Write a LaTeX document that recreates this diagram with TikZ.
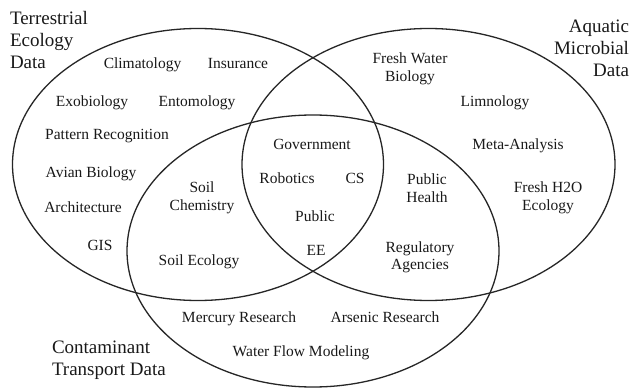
\documentclass[tikz,border=0pt]{standalone}
\usepackage{fontspec}
\setmainfont{Liberation Serif}
\begin{document}
\begin{tikzpicture}[x=1pt,y=-1pt,
  set/.style={line width=1.3pt,draw=black!85},
  lbl/.style={inner sep=0pt,outer sep=0pt,anchor=base,align=center,font=\fontsize{15.5}{17.5}\selectfont,text=black!90},
  big/.style={inner sep=0pt,outer sep=0pt,font=\fontsize{19}{22}\selectfont,text=black!90}]
\useasboundingbox[fill=white] (0,0) rectangle (634,390);
% sets
\draw[set] (198,164.5) ellipse [x radius=185.5pt, y radius=136pt];
\draw[set] (428.5,164.5) ellipse [x radius=186.5pt, y radius=136pt];
\draw[set] (313,251) ellipse [x radius=186pt, y radius=136pt];
% set titles (base anchor = baseline of last line)
\node[big,anchor=base west,align=left] (terr) at (10,68.3) {Terrestrial\\Ecology\\Data};
\node[big,anchor=base east,align=right] (aqua) at (629,77) {Aquatic\\Microbial\\Data};
\node[big,anchor=base west,align=left] (cont) at (52,375) {Contaminant\\Transport Data};
% terrestrial only
\node[lbl] (clim) at (142.5,69) {Climatology};
\node[lbl] (ins) at (238,69) {Insurance};
\node[lbl] (exo) at (92,107) {Exobiology};
\node[lbl] (ento) at (197,107) {Entomology};
\node[lbl] (patt) at (107,140) {Pattern Recognition};
\node[lbl] (avian) at (91,178) {Avian Biology};
\node[lbl] (arch) at (83,212) {Architecture};
\node[lbl] (gis) at (100,250) {GIS};
% terrestrial & contaminant
\node[lbl] (soilc) at (202,210.5) {Soil\\Chemistry};
\node[lbl] (soile) at (199,265) {Soil Ecology};
% all three
\node[lbl] (gov) at (312,150) {Government};
\node[lbl] (rob) at (287,183) {Robotics};
\node[lbl] (cs) at (355,183) {CS};
\node[lbl] (pub) at (315,221) {Public};
\node[lbl] (ee) at (316,255) {EE};
% aquatic only
\node[lbl] (fwb) at (410,81.5) {Fresh Water\\Biology};
\node[lbl] (limn) at (495,107) {Limnology};
\node[lbl] (meta) at (518,150) {Meta-Analysis};
\node[lbl] (fh2o) at (548,210.5) {Fresh H2O\\Ecology};
% aquatic & contaminant
\node[lbl] (ph) at (427,202.5) {Public\\Health};
\node[lbl] (reg) at (420,269.5) {Regulatory\\Agencies};
% contaminant only
\node[lbl] (merc) at (239,322) {Mercury Research};
\node[lbl] (ars) at (385,322) {Arsenic Research};
\node[lbl] (wfm) at (301,356) {Water Flow Modeling};
\end{tikzpicture}
\end{document}
